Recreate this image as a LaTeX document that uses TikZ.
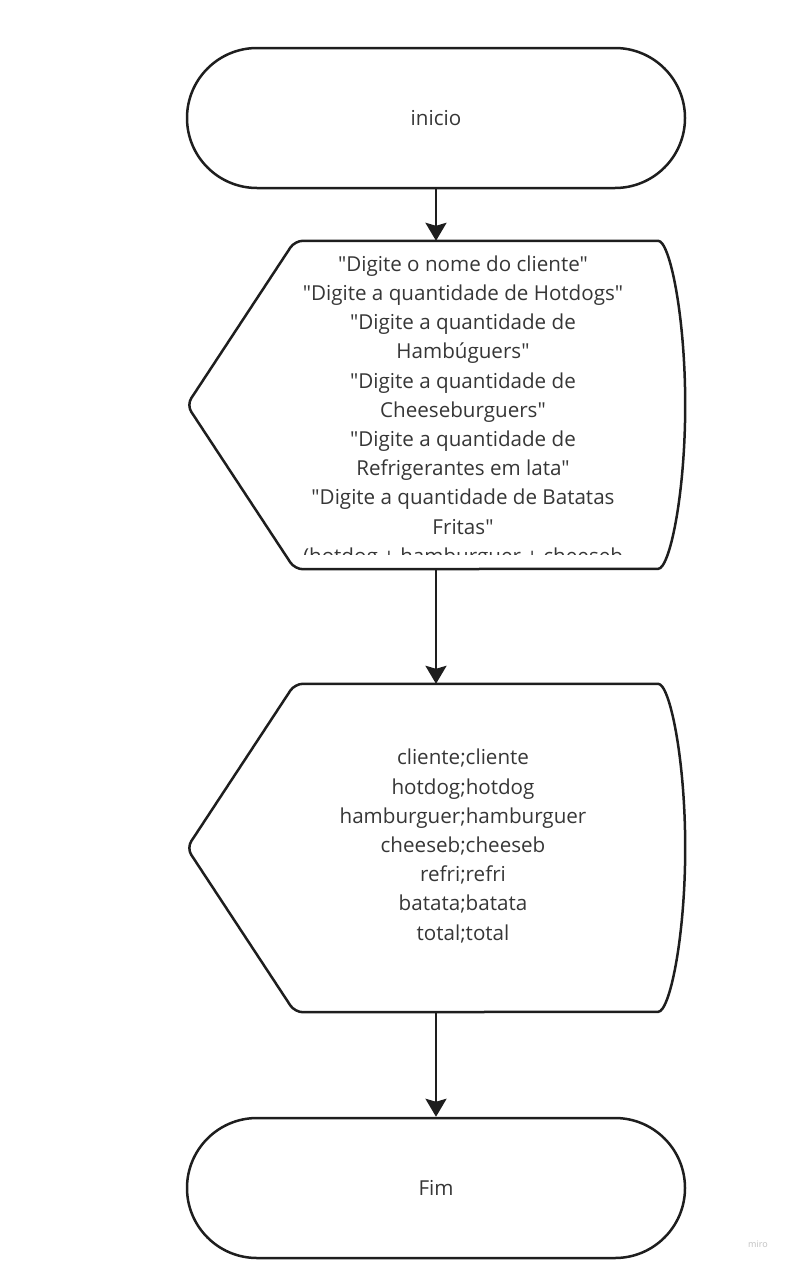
\documentclass[tikz,border=0pt]{standalone}
\usepackage{fontspec}
\setmainfont{Open Sans}[Ligatures=TeXOff]
\usetikzlibrary{arrows.meta, positioning}
\definecolor{linha}{HTML}{1E1E1E}
\definecolor{texto}{HTML}{363636}

\begin{document}
\begin{tikzpicture}[x=1pt, y=1pt, >={Stealth[length=18pt, width=21pt, inset=3pt]},
		terminal/.style={draw=linha, line width=2.5pt, rounded corners=70pt, minimum width=498pt, minimum height=140pt, font=\fontsize{20.6}{29.2}\selectfont, text=texto},
		caixa/.style={minimum width=498pt, minimum height=328pt, inner sep=0pt},
		exibe/.style={draw=linha, line width=2.5pt, rounded corners=8pt},
		txt/.style={align=center, font=\fontsize{20.6}{29.2}\selectfont, text=texto, inner sep=0pt},
		seta/.style={draw=linha, line width=2.5pt, ->}]
	\useasboundingbox (0,0) rectangle (789,-1266);
	
	\node [terminal] (inicio) at (436,-118) {inicio};
	\node [caixa] (entrada) at (436,-405) {};
	\node [caixa] (saida) at (436,-848) {};
	\node [terminal] (fim) at (436,-1188) {Fim};
	
	% formas de exibicao
	\draw [exibe] ([xshift=-35pt]entrada.north east) arc[start angle=90, end angle=-90, x radius=35pt, y radius=164pt]
		-- ([xshift=108pt]entrada.south west) -- (entrada.west) -- ([xshift=108pt]entrada.north west) -- cycle;
	\draw [exibe] ([xshift=-35pt]saida.north east) arc[start angle=90, end angle=-90, x radius=35pt, y radius=164pt]
		-- ([xshift=108pt]saida.south west) -- (saida.west) -- ([xshift=108pt]saida.north west) -- cycle;
	
	\begin{scope}
		\clip (187,-245) rectangle (685,-554);
		\node [txt] (entradatxt) at (463,-412) {"Digite o nome do cliente"\\
			"Digite a quantidade de Hotdogs"\\
			"Digite a quantidade de\\ Hambúguers"\\
			"Digite a quantidade de\\ Cheeseburguers"\\
			"Digite a quantidade de\\ Refrigerantes em lata"\\
			"Digite a quantidade de Batatas\\ Fritas"\\
			(hotdog + hamburguer + cheeseb};
	\end{scope}
	\node [txt] (saidatxt) at (463,-846) {cliente;cliente\\ hotdog;hotdog\\ hamburguer;hamburguer\\
		cheeseb;cheeseb\\ refri;refri\\ batata;batata\\ total;total};
	
	\draw [seta] (inicio) -- (entrada);
	\draw [seta] (entrada) -- (saida);
	\draw [seta] (saida) -- (fim);
	
	\node [font=\fontsize{9}{10}\selectfont, text=black!25] (miro) at (758,-1244) {miro};
\end{tikzpicture}
\end{document}
